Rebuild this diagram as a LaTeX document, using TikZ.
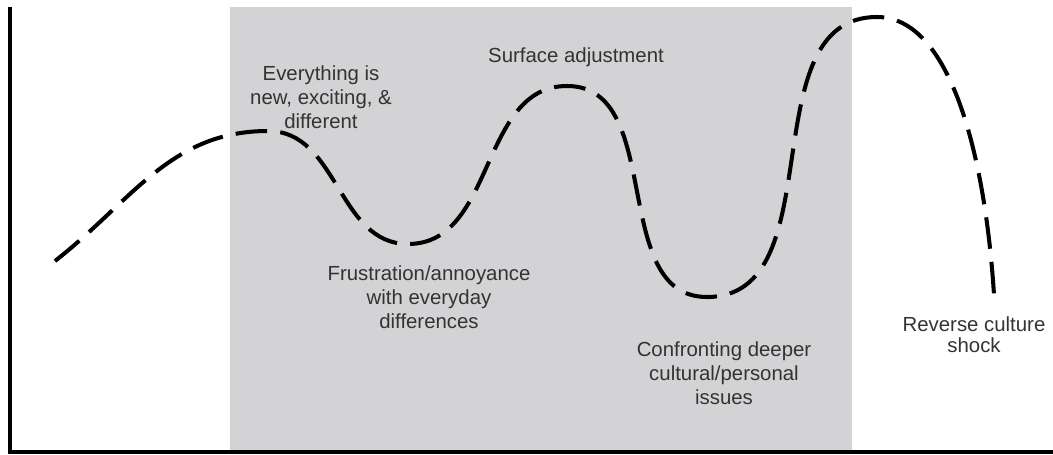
\documentclass[tikz,border=0pt]{standalone}
\usepackage{fontspec}
\setmainfont{Liberation Sans}
\usepackage{tikz}

\definecolor{boxgray}{HTML}{D3D3D5}
\definecolor{textgray}{HTML}{333333}

\tikzset{
    axisline/.style={line width=2pt, black},
    phasecurve/.style={line width=2.3pt, black, dash pattern=on 18pt off 7.5pt},
    phaselabel/.style={align=center, text=textgray, inner sep=0pt,
        font=\fontsize{11.6}{13.7}\selectfont}
}

\begin{document}
\begin{tikzpicture}[x=0.02cm, y=0.02cm]
            \useasboundingbox (0,0) rectangle (1053,454);

            \fill[boxgray] (230,2) rectangle (852,447);

            \draw[axisline] (10,447) -- (10,2) -- (1053,2);

            \coordinate (start) at (55,193);
            \coordinate (peakA) at (268,323);
            \coordinate (lowA) at (408,210);
            \coordinate (peakB) at (567,368);
            \coordinate (lowB) at (707,157);
            \coordinate (peakC) at (877,437);
            \coordinate (finish) at (994,159);

            \draw[phasecurve] (start) to[out=38,in=180] (peakA)
                to[out=0,in=180] (lowA)
                to[out=0,in=180] (peakB)
                to[out=0,in=180] (lowB)
                to[out=0,in=180] (peakC)
                .. controls (950,437) and (985,300) .. (finish);

            \node[phaselabel] (honeymoon) at (321,357) {Everything is\\new, exciting, \&\\different};
            \node[phaselabel] (frustration) at (429,157) {Frustration/annoyance\\with everyday\\differences};
            \node[phaselabel] (adjust) at (576,397) {Surface adjustment};
            \node[phaselabel] (deeper) at (724,81) {Confronting deeper\\cultural/personal\\issues};
            \node[phaselabel, font=\fontsize{11.6}{12}\selectfont] (reverse) at (974,119) {Reverse culture\\shock};
         \end{tikzpicture}
\end{document}
